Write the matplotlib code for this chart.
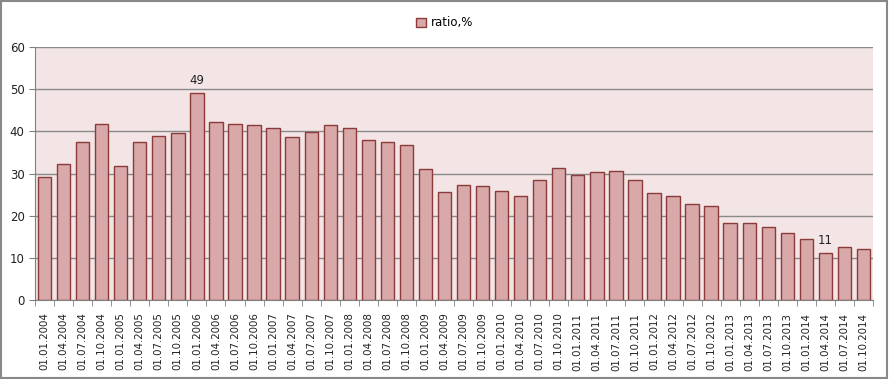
''' Quarterly ratio bar chart, 2004-2014.
'''
import matplotlib.pyplot as plt
from matplotlib.patches import Rectangle

dates = ['01.01.2004', '01.04.2004', '01.07.2004', '01.10.2004',
         '01.01.2005', '01.04.2005', '01.07.2005', '01.10.2005',
         '01.01.2006', '01.04.2006', '01.07.2006', '01.10.2006',
         '01.01.2007', '01.04.2007', '01.07.2007', '01.10.2007',
         '01.01.2008', '01.04.2008', '01.07.2008', '01.10.2008',
         '01.01.2009', '01.04.2009', '01.07.2009', '01.10.2009',
         '01.01.2010', '01.04.2010', '01.07.2010', '01.10.2010',
         '01.01.2011', '01.04.2011', '01.07.2011', '01.10.2011',
         '01.01.2012', '01.04.2012', '01.07.2012', '01.10.2012',
         '01.01.2013', '01.04.2013', '01.07.2013', '01.10.2013',
         '01.01.2014', '01.04.2014', '01.07.2014', '01.10.2014']
ratio = [29.1, 32.2, 37.4, 41.7, 31.7, 37.4, 39.0, 39.5,
         49.0, 42.1, 41.7, 41.4, 40.9, 38.6, 39.8, 41.4,
         40.7, 37.9, 37.4, 36.7, 31.0, 25.5, 27.2, 27.0,
         25.8, 24.6, 28.4, 31.2, 29.6, 30.3, 30.5, 28.4,
         25.3, 24.6, 22.7, 22.2, 18.2, 18.2, 17.2, 15.8,
         14.4, 11.1, 12.5, 12.0]
labelled = {8: '49', 41: '11'}

plt.rcParams['font.family'] = 'DejaVu Sans'
plt.rcParams['font.size'] = 8.5

fig = plt.figure(figsize=(8.89, 3.79), dpi=100)
ax = fig.add_axes([0.0394, 0.2084, 0.9426, 0.6676])
ax.set_facecolor('#f3e5e5')

x = list(range(len(dates)))
bars = ax.bar(x, ratio, width=0.7, color='#d9a8a8', edgecolor='#8c3a3a',
              linewidth=1, label='ratio,%', zorder=3)
for i, txt in labelled.items():
    ax.text(i, ratio[i] + 1.5, txt, ha='center', va='bottom', color='#222222')

ax.set_xlim(-0.5, len(dates) - 0.5)
ax.set_ylim(0, 60)
ax.set_yticks(range(0, 61, 10))
ax.set_xticks(x)
ax.set_xticklabels(dates, rotation=90, color='#222222', fontsize=7.4)
ax.set_xticks([i - 0.5 for i in range(len(dates) + 1)], minor=True)
ax.tick_params(axis='x', which='major', length=0, pad=9)
ax.tick_params(axis='x', which='minor', length=4, color='#808080')
ax.tick_params(axis='y', length=4, color='#808080', labelcolor='#222222')
ax.grid(axis='y', color='#8a8a8a', linewidth=1, zorder=1)
for s in ['top', 'right']:
    ax.spines[s].set_visible(False)
for s in ['left', 'bottom']:
    ax.spines[s].set_color('#808080')

fig.legend(handles=[bars], loc='upper center', bbox_to_anchor=(0.5, 0.985),
           frameon=False, handlelength=0.8, handleheight=0.8, handletextpad=0.4)

fig.patches.append(Rectangle((0.001, 0.002), 0.997, 0.995, transform=fig.transFigure,
                             fill=False, edgecolor='#888888', linewidth=1.5))

fig.savefig('out.png', dpi=100)
